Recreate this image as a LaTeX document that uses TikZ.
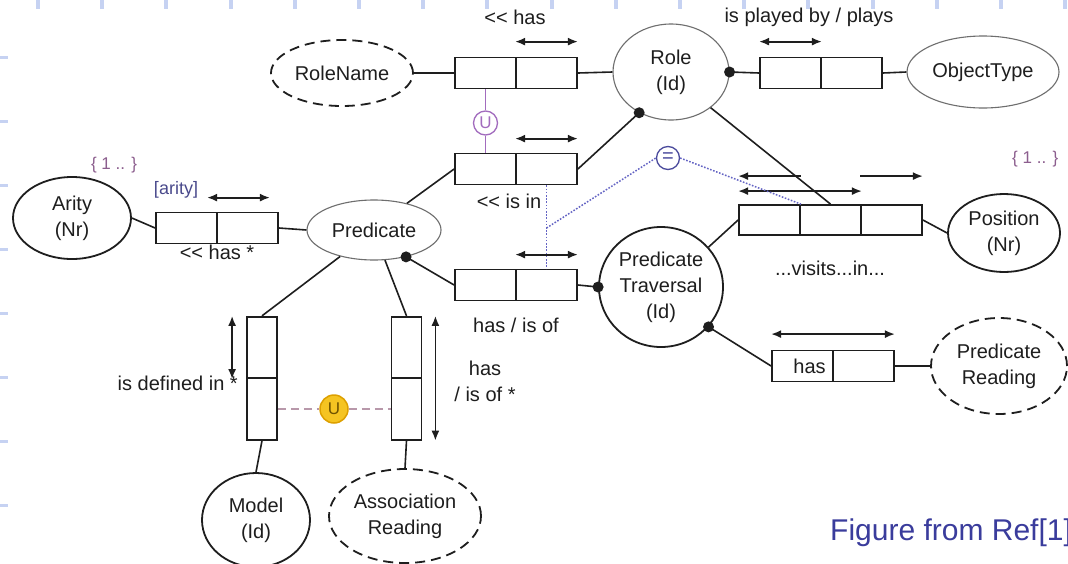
\documentclass[tikz,border=0pt]{standalone}
\usepackage{fontspec}
\setmainfont{Liberation Sans}
\usetikzlibrary{shapes.geometric,arrows.meta,calc}

\definecolor{ink}{HTML}{1E1E1E}
\definecolor{thinrim}{HTML}{6E6E6E}
\definecolor{uviolet}{HTML}{A26CBE}
\definecolor{eqblue}{HTML}{4A4A9C}
\definecolor{dotblue}{HTML}{6464C4}
\definecolor{ufill}{HTML}{F5C422}
\definecolor{urim}{HTML}{DDA000}
\definecolor{udark}{HTML}{6E5200}
\definecolor{pinkgrey}{HTML}{B898AA}
\definecolor{slateblue}{HTML}{4A4A8C}
\definecolor{setpurple}{HTML}{8C5E8E}
\definecolor{captionblue}{HTML}{3A3C9C}
\definecolor{tickblue}{HTML}{C6D2F2}

\tikzset{
  txt/.style={font=\fontsize{20}{26}\selectfont, text=ink, inner sep=0pt, align=center},
  ent/.style={ellipse, draw=ink, line width=1.8pt, inner sep=0pt, txt},
  lightent/.style={ent, draw=thinrim, line width=1.1pt},
  dashent/.style={ent, dash pattern=on 10pt off 6pt},
  cell/.style={draw=ink, line width=1.8pt, fill=white, minimum width=61pt, minimum height=31pt, inner sep=0pt},
  vcell/.style={cell, minimum width=30pt, minimum height=61.5pt},
  conn/.style={draw=ink, line width=1.6pt},
  uarr/.style={draw=ink, line width=1.8pt, {Latex[length=10pt,width=8pt]}-{Latex[length=10pt,width=8pt]}},
  larr/.style={draw=ink, line width=1.8pt, {Latex[length=10pt,width=8pt]}-},
  rarr/.style={draw=ink, line width=1.8pt, -{Latex[length=10pt,width=8pt]}},
  rolespot/.style={fill=ink},
  ucons/.style={circle, draw=uviolet, line width=1.3pt, fill=white, minimum size=24pt, inner sep=0pt, text=uviolet, font=\fontsize{17}{17}\selectfont},
  eqcons/.style={circle, draw=eqblue, line width=1.3pt, fill=white, minimum size=23pt, inner sep=0pt, text=eqblue, font=\fontsize{20}{20}\selectfont},
  ycons/.style={circle, draw=urim, line width=1.5pt, fill=ufill, minimum size=28pt, inner sep=0pt, text=udark, font=\fontsize{17}{17}\selectfont},
  dotlink/.style={draw=dotblue, line width=1.5pt, dash pattern=on 1.6pt off 1.6pt},
  pinklink/.style={draw=pinkgrey, line width=1.4pt, dash pattern=on 8pt off 5pt},
  violink/.style={draw=uviolet, line width=1.2pt},
}

\begin{document}
\begin{tikzpicture}[x=1pt,y=-1pt]
\useasboundingbox (0,0) rectangle (1068,563);
\clip (0,0) rectangle (1068,563);
\fill[white] (0,0) rectangle (1068,563);

% slide grid ticks
\foreach \k in {0,...,16}{
  \fill[tickblue] ({38+64.2*\k-2},0) rectangle ({38+64.2*\k+2},8.5);
}
\foreach \k in {0,...,7}{
  \fill[tickblue] (0,{57.5+64*\k-1.8}) rectangle (8,{57.5+64*\k+1.8});
}

% entity and value types
\node[dashent, minimum width=142pt, minimum height=66pt] (rolename) at (342,73) {RoleName};
\node[lightent, minimum width=116pt, minimum height=96pt] (role) at (671,72) {Role\\(Id)};
\node[lightent, minimum width=152pt, minimum height=72pt] (objtype) at (983,72) {ObjectType};
\node[ent, minimum width=118pt, minimum height=82pt] (arity) at (72,218) {Arity\\(Nr)};
\node[lightent, minimum width=134pt, minimum height=60pt] (predicate) at (374,230) {Predicate};
\node[ent, minimum width=112pt, minimum height=78pt] (position) at (1004,233) {Position\\(Nr)};
\node[ent, minimum width=124pt, minimum height=120pt] (ptrav) at (661,287) {Predicate\\Traversal\\(Id)};
\node[dashent, minimum width=136pt, minimum height=96pt] (predreading) at (999,366) {Predicate\\Reading};
\node[ent, minimum width=108pt, minimum height=94pt] (model) at (256,520) {Model\\(Id)};
\node[dashent, minimum width=152pt, minimum height=94pt] (assoc) at (405,516) {Association\\Reading};

% fact type role boxes
\node[cell] (h1) at (485.5,73) {};
\node[cell] (h2) at (546.5,73) {};
\node[cell] (p1) at (790.5,73) {};
\node[cell] (p2) at (851.5,73) {};
\node[cell] (i1) at (485.5,169) {};
\node[cell] (i2) at (546.5,169) {};
\node[cell] (o1) at (485.5,285) {};
\node[cell] (o2) at (546.5,285) {};
\node[cell] (a1) at (186.5,228) {};
\node[cell] (a2) at (247.5,228) {};
\node[cell, minimum height=30pt] (t1) at (769.5,220) {};
\node[cell, minimum height=30pt] (t2) at (830.5,220) {};
\node[cell, minimum height=30pt] (t3) at (891.5,220) {};
\node[cell] (r1) at (802.5,366) {};
\node[cell] (r2) at (863.5,366) {};
\node[vcell] (d1) at (262,347.5) {};
\node[vcell] (d2) at (262,409) {};
\node[vcell] (e1) at (406.5,347.5) {};
\node[vcell] (e2) at (406.5,409) {};
\node[txt, xshift=7pt] (hastext) at (r1) {has};

% role connectors
\draw[conn] (rolename.east) -- (h1.west);
\draw[conn] (h2.east) -- (role.west);
\draw[conn] (role.east) -- (p1.west);
\fill[rolespot] (role.east) circle[radius=5.5pt];
\draw[conn] (p2.east) -- (objtype.west);
\draw[conn] (role.232) -- (i2.east);
\fill[rolespot] (role.232) circle[radius=5.5pt];
\draw[conn] (role.318) -- (t2.north);
\draw[conn] (predicate.39) -- (i1.west);
\draw[conn] (predicate.320) -- (o1.west);
\fill[rolespot] (predicate.320) circle[radius=5.5pt];
\draw[conn] (o2.east) -- (ptrav.west);
\fill[rolespot] (ptrav.west) circle[radius=5.5pt];
\draw[conn] (ptrav.40) -- (t1.west);
\draw[conn] (t3.east) -- (position.west);
\draw[conn] (ptrav.320) -- (r1.west);
\fill[rolespot] (ptrav.320) circle[radius=5.5pt];
\draw[conn] (r2.east) -- (predreading.west);
\draw[conn] (arity.east) -- (a1.west);
\draw[conn] (a2.east) -- (predicate.west);
\draw[conn] (predicate.218) -- (d1.north);
\draw[conn] (predicate.290) -- (e1.north);
\draw[conn] (d2.south) -- (model.north);
\draw[conn] (e2.south) -- (assoc.north);

% uniqueness constraints
\draw[uarr] ([yshift=15pt]h2.north west) -- ([yshift=15pt]h2.north east);
\draw[uarr] ([yshift=15pt]p1.north west) -- ([yshift=15pt]p1.north east);
\draw[uarr] ([yshift=14pt]i2.north west) -- ([yshift=14pt]i2.north east);
\draw[uarr] ([yshift=14pt]o2.north west) -- ([yshift=14pt]o2.north east);
\draw[uarr] ([shift={(-9pt,14pt)}]a2.north west) -- ([shift={(-9pt,14pt)}]a2.north east);
\draw[uarr] ([yshift=13pt]t1.north west) -- ([yshift=13pt]t2.north east);
\draw[larr] ([yshift=28pt]t1.north west) -- ([yshift=28pt]t1.north east);
\draw[rarr] ([yshift=28pt]t3.north west) -- ([yshift=28pt]t3.north east);
\draw[uarr] ([yshift=15.5pt]r1.north west) -- ([yshift=15.5pt]r2.north east);
\draw[uarr] ([xshift=-14pt]d1.north west) -- ([xshift=-14pt]d1.south west);
\draw[uarr] ([xshift=13pt]e1.north east) -- ([xshift=13pt]e2.south east);

% exclusion, subset and equality constraints
\node[ucons] (ur) at (485.5,123) {U};
\draw[violink] (h1.south) -- (ur.north);
\draw[violink] (ur.south) -- (i1.north);
\draw[dotlink] (i2.south) -- (o2.north);
\coordinate (eqjoin) at (546.5,228);
\node[eqcons] (eq) at (668,158) {=};
\draw[dotlink] (eqjoin) -- (eq.west);
\draw[dotlink] (eq.east) -- (t1.north east);
\node[ycons] (uy) at (334,409) {U};
\draw[pinklink] (d2.east) -- (uy.west);
\draw[pinklink] (uy.east) -- (e2.west);

% fact type readings and labels
\node[txt] (lhas) at (515,17) {<{}< has};
\node[txt] (lplay) at (809,17) {is played by / plays};
\node[txt] (lisin) at (509,201) {<{}< is in};
\node[txt] (lhasof) at (516,325) {has / is of};
\node[txt] (larity) at (217,252) {<{}< has *};
\node[txt, text=slateblue, font=\fontsize{18}{18}\selectfont] (lrole) at (176,190) {[arity]};
\node[txt, text=setpurple, font=\fontsize{17}{17}\selectfont] (lset1) at (114,165) {\{ 1 .. \}};
\node[txt, text=setpurple, font=\fontsize{17}{17}\selectfont, anchor=west] (lset2) at (1012,159) {\{ 1 .. \}};
\node[txt] (lvisits) at (830,268) {...visits...in...};
\node[txt, anchor=east] (ldef) at (238,383) {is defined in *};
\node[txt] (lhasis) at (485,381) {has\\/ is of *};

\node[anchor=west, inner sep=0pt, text=captionblue, font=\fontsize{30}{30}\selectfont] (caption) at (830,533) {Figure from Ref[1]};
\end{tikzpicture}
\end{document}
